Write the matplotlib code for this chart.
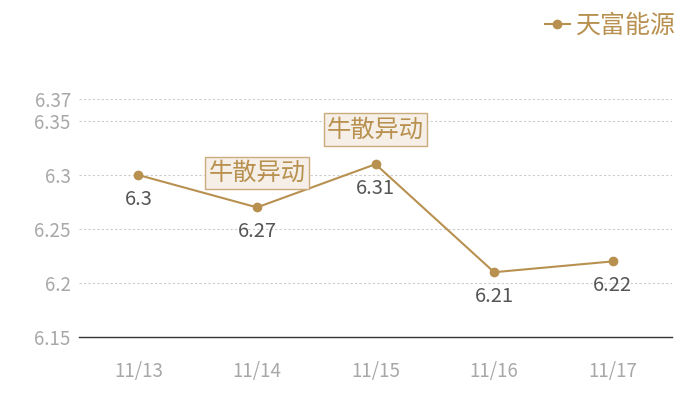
import matplotlib.pyplot as plt
import numpy as np

plt.rcParams['font.family'] = ['Noto Sans CJK SC', 'DejaVu Sans']

dates = ['11/13', '11/14', '11/15', '11/16', '11/17']
prices = [6.3, 6.27, 6.31, 6.21, 6.22]
series_name = '天富能源'
yticks = [6.15, 6.2, 6.25, 6.3, 6.35, 6.37]
ytick_labels = ['6.15', '6.2', '6.25', '6.3', '6.35', '6.37']
notes = ['', '牛散异动', '牛散异动', '', '']

gold = '#b89150'

fig = plt.figure(figsize=(7, 4), dpi=100)
ax = fig.add_axes([0.113, 0.1575, 0.847, 0.594])

x = np.arange(len(dates))
ax.plot(x, prices, color=gold, lw=1.5, marker='o', ms=6, label=series_name)

for xi, v in zip(x, prices):
    ax.annotate(f'{v:g}', (xi, v), xytext=(0, -10), textcoords='offset points',
                ha='center', va='top', fontsize=14.5, color='#555555')

for xi, v, n in zip(x, prices, notes):
    if n:
        ax.annotate(n, (xi, v), xytext=(0, 25), textcoords='offset points',
                    ha='center', va='center', fontsize=17.5, color=gold,
                    bbox=dict(boxstyle='square,pad=0.13', fc='#f5efe7', ec='#c9ab7c', lw=1))

ax.set_xlim(-0.5, len(dates) - 0.5)
ax.set_ylim(6.15, 6.37)
ax.set_xticks(x)
ax.set_xticklabels(dates)
ax.set_yticks(yticks)
ax.set_yticklabels(ytick_labels)
ax.tick_params(length=0, labelcolor='#a8a8a8', labelsize=13.5)
ax.tick_params(axis='x', pad=17)
ax.tick_params(axis='y', pad=6)

for t in yticks[1:]:
    ax.axhline(t, color='#cccccc', lw=0.8, ls=(0, (2, 2)), zorder=0)

for s in ['top', 'right', 'left']:
    ax.spines[s].set_visible(False)
ax.spines['bottom'].set_color('#333333')
ax.spines['bottom'].set_linewidth(1)

leg = fig.legend(loc='upper right', bbox_to_anchor=(0.998, 1.025), frameon=False,
                 fontsize=18, handlelength=1.0, handletextpad=0.25)
for t in leg.get_texts():
    t.set_color(gold)

fig.savefig('out.png', dpi=100)
